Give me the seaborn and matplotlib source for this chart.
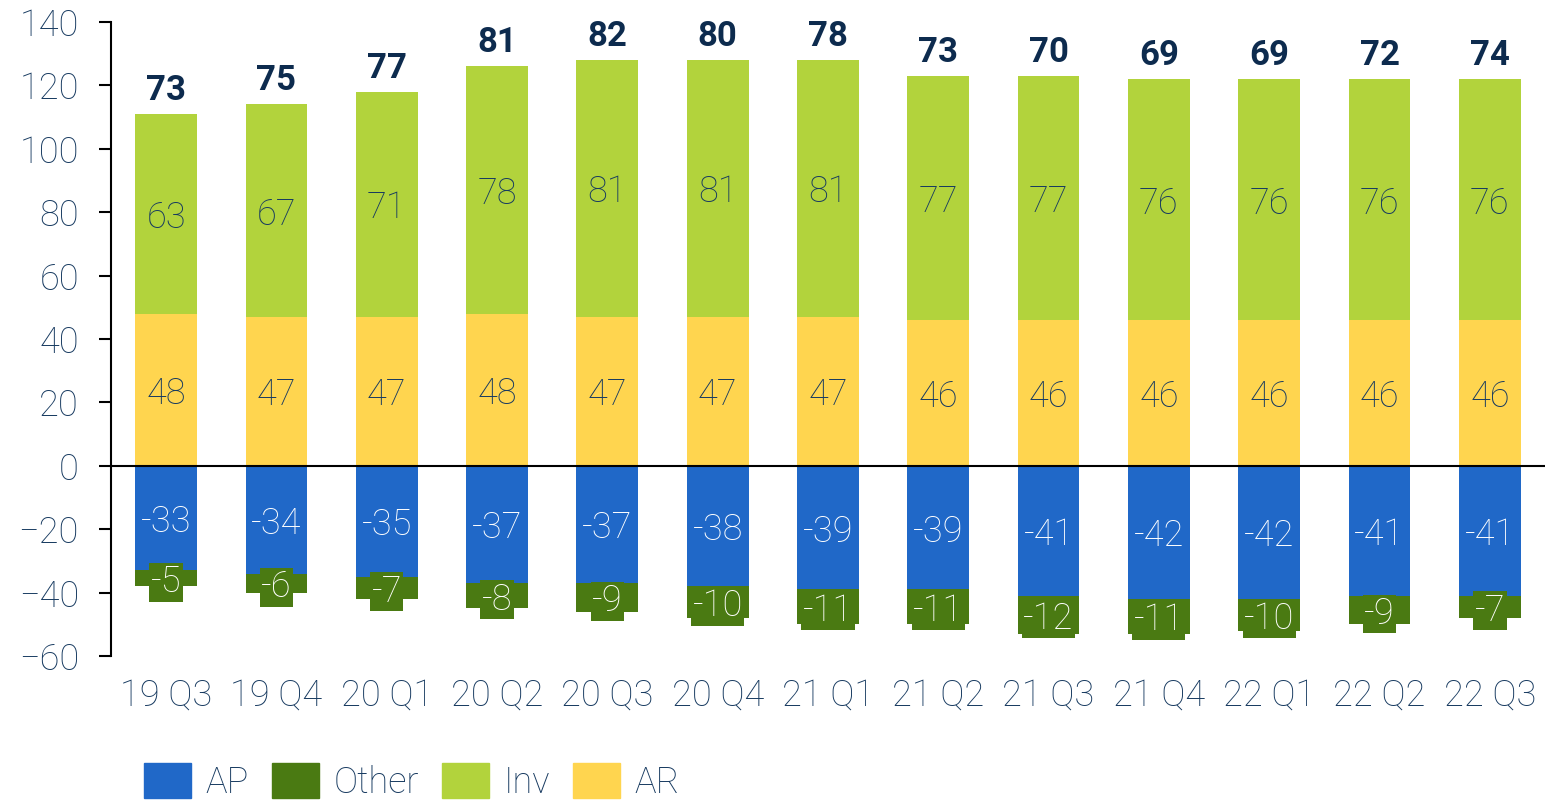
import matplotlib
matplotlib.use("Agg")
import matplotlib.pyplot as plt
from matplotlib.patches import Patch
import seaborn as sns
import numpy as np

quarters = ["19 Q3", "19 Q4", "20 Q1", "20 Q2", "20 Q3", "20 Q4", "21 Q1",
            "21 Q2", "21 Q3", "21 Q4", "22 Q1", "22 Q2", "22 Q3"]
ar = [48, 47, 47, 48, 47, 47, 47, 46, 46, 46, 46, 46, 46]
inv = [63, 67, 71, 78, 81, 81, 81, 77, 77, 76, 76, 76, 76]
ap = [-33, -34, -35, -37, -37, -38, -39, -39, -41, -42, -42, -41, -41]
other = [-5, -6, -7, -8, -9, -10, -11, -11, -12, -11, -10, -9, -7]
totals = [73, 75, 77, 81, 82, 80, 78, 73, 70, 69, 69, 72, 74]

C_AP = "#2068C8"
C_OTHER = "#4A7A12"
C_INV = "#B2D33C"
C_AR = "#FFD54F"
NAVY = "#173A60"
DARK = "#0D2B4E"

sns.set_style("white")
plt.rcParams["font.family"] = ["Roboto", "DejaVu Sans"]
plt.rcParams["font.weight"] = "light"

ar_a = np.array(ar)
inv_a = np.array(inv)
ap_a = np.array(ap)
oth_a = np.array(other)

fig = plt.figure(figsize=(15.45, 8), dpi=100)
ax = fig.add_axes([0.0718, 0.18, 0.9282, 0.7925])

w = 0.56
# stacked via overlapping cumulative bars
sns.barplot(x=quarters, y=ar_a + inv_a, color=C_INV, width=w, saturation=1, ax=ax, linewidth=0)
sns.barplot(x=quarters, y=ar_a, color=C_AR, width=w, saturation=1, ax=ax, linewidth=0)
sns.barplot(x=quarters, y=ap_a + oth_a, color=C_OTHER, width=w, saturation=1, ax=ax, linewidth=0)
sns.barplot(x=quarters, y=ap_a, color=C_AP, width=w, saturation=1, ax=ax, linewidth=0)

fs = 26
va = "center_baseline"
for i in range(len(quarters)):
    ax.text(i, ar[i] / 2, str(ar[i]), ha="center", va=va, fontsize=fs, color=NAVY)
    ax.text(i, ar[i] + inv[i] / 2, str(inv[i]), ha="center", va=va, fontsize=fs, color=NAVY)
    ax.text(i, ap[i] / 2, str(ap[i]), ha="center", va=va, fontsize=fs, color="white")
    ax.text(i, ap[i] + other[i] / 2, str(other[i]), ha="center", va=va, fontsize=fs,
            color="white", bbox=dict(facecolor=C_OTHER, edgecolor="none", pad=1.0))
    ax.annotate(str(totals[i]), (i, ar[i] + inv[i]), xytext=(0, 5), textcoords="offset points",
                ha="center", va="bottom", fontsize=fs - 1, fontweight="bold", color=DARK)

ax.axhline(0, color="black", lw=1.5, zorder=5)
ax.set_ylim(-60, 140)
ax.set_xlim(-0.5, 12.5)
ax.set_yticks(range(-60, 141, 20))
ax.set_xlabel("")
ax.set_ylabel("")
for s in ["top", "right", "bottom"]:
    ax.spines[s].set_visible(False)
ax.spines["left"].set_color("black")
ax.spines["left"].set_linewidth(1.5)
ax.tick_params(axis="y", left=True, length=9, width=1.5, color="black", pad=14,
               labelsize=fs, labelcolor=NAVY)
ax.tick_params(axis="x", bottom=False, pad=12, labelsize=fs, labelcolor=NAVY)

handles = [Patch(color=C_AP, label="AP"), Patch(color=C_OTHER, label="Other"),
           Patch(color=C_INV, label="Inv"), Patch(color=C_AR, label="AR")]
fig.legend(handles=handles, loc="lower left", bbox_to_anchor=(0.072, -0.042), ncol=4,
           frameon=False, fontsize=fs, handlelength=1.3, handleheight=1.1,
           handletextpad=0.4, columnspacing=0.65, labelcolor=NAVY)

fig.savefig("out.png", dpi=100)
